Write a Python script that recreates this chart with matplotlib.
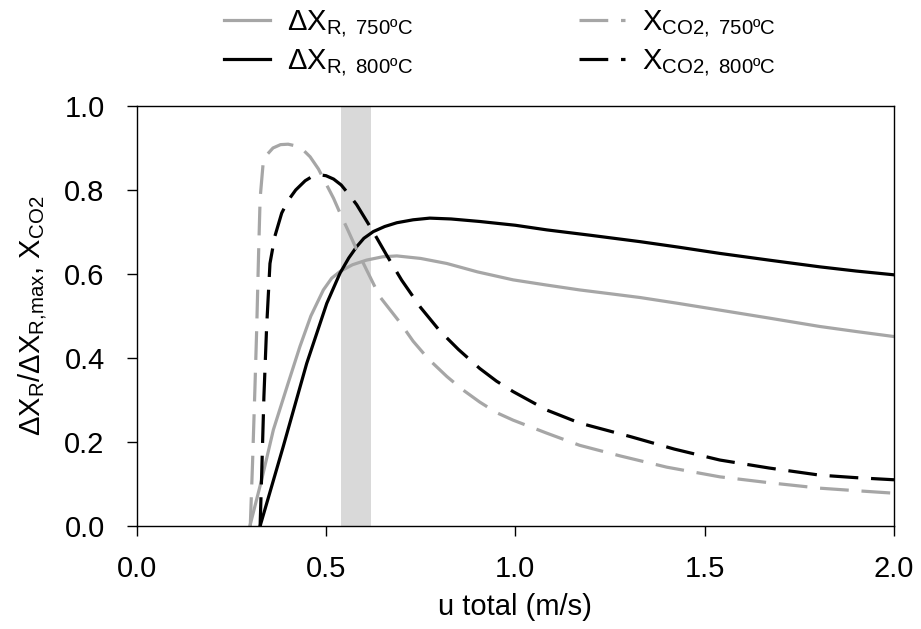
import matplotlib
matplotlib.use("Agg")
import matplotlib.pyplot as plt
from matplotlib.ticker import FormatStrFormatter

plt.rcParams['font.family'] = ['Liberation Sans', 'DejaVu Sans']
plt.rcParams['mathtext.fontset'] = 'custom'
plt.rcParams['mathtext.rm'] = 'Liberation Sans'
plt.rcParams['mathtext.it'] = 'Liberation Sans'
plt.rcParams['mathtext.default'] = 'regular'

# values
u_dxr_750 = [0.299, 0.33, 0.361, 0.40, 0.431, 0.46, 0.493, 0.515, 0.537, 0.57, 0.607, 0.65, 0.687, 0.75,
             0.819, 0.90, 0.994, 1.08, 1.17, 1.25, 1.329, 1.43, 1.54, 1.67, 1.804, 1.90, 2.0]
dxr_750 = [0.0, 0.11, 0.229, 0.34, 0.427, 0.50, 0.562, 0.59, 0.606, 0.622, 0.633, 0.641, 0.643, 0.637,
           0.625, 0.605, 0.586, 0.574, 0.562, 0.553, 0.544, 0.530, 0.514, 0.495, 0.475, 0.463, 0.451]

u_dxr_800 = [0.326, 0.387, 0.449, 0.502, 0.537, 0.56, 0.581, 0.60, 0.625, 0.655, 0.687, 0.73, 0.774, 0.83,
             0.906, 1.0, 1.083, 1.2, 1.329, 1.43, 1.54, 1.67, 1.804, 1.90, 2.0]
dxr_800 = [0.0, 0.189, 0.387, 0.530, 0.602, 0.638, 0.665, 0.685, 0.701, 0.713, 0.722, 0.729, 0.733, 0.731,
           0.725, 0.716, 0.705, 0.692, 0.677, 0.664, 0.649, 0.633, 0.617, 0.607, 0.598]

u_xco2_750 = [0.300, 0.306, 0.312, 0.317, 0.322, 0.326, 0.334, 0.345, 0.36, 0.38, 0.40, 0.42, 0.44, 0.458,
              0.48, 0.50, 0.52, 0.537, 0.56, 0.58, 0.607, 0.642, 0.695, 0.73, 0.77, 0.819, 0.86, 0.906,
              0.95, 0.994, 1.083, 1.17, 1.276, 1.40, 1.54, 1.67, 1.804, 1.90, 2.0]
xco2_750 = [0.0, 0.15, 0.32, 0.47, 0.65, 0.78, 0.864, 0.885, 0.90, 0.908, 0.909, 0.905, 0.895, 0.879,
            0.85, 0.815, 0.78, 0.745, 0.70, 0.66, 0.61, 0.546, 0.485, 0.44, 0.398, 0.356, 0.325, 0.295,
            0.27, 0.252, 0.221, 0.192, 0.167, 0.14, 0.117, 0.103, 0.090, 0.084, 0.078]

u_xco2_800 = [0.326, 0.330, 0.336, 0.343, 0.352, 0.365, 0.383, 0.40, 0.42, 0.445, 0.465, 0.484, 0.50, 0.52,
              0.54, 0.56, 0.581, 0.625, 0.66, 0.70, 0.75, 0.80, 0.85, 0.906, 0.95, 0.994, 1.083, 1.17,
              1.303, 1.42, 1.54, 1.67, 1.804, 1.90, 2.0]
xco2_800 = [0.0, 0.12, 0.308, 0.47, 0.625, 0.69, 0.745, 0.775, 0.80, 0.822, 0.833, 0.836, 0.834, 0.826,
            0.812, 0.79, 0.765, 0.70, 0.645, 0.585, 0.52, 0.465, 0.42, 0.375, 0.345, 0.32, 0.276, 0.245,
            0.213, 0.183, 0.157, 0.138, 0.121, 0.115, 0.110]

band = (0.54, 0.62)

gray = '#A6A6A6'
dash = (0, (9, 4))
fs = 21

fig = plt.figure(figsize=(9.21, 6.29), dpi=100)
ax = fig.add_axes([0.1484, 0.1638, 0.8223, 0.6677])

ax.axvspan(band[0], band[1], color='#D9D9D9', lw=0, zorder=0)

l1, = ax.plot(u_dxr_750, dxr_750, color=gray, lw=2.3, label=r'$\Delta X_{R,\ 750ºC}$')
l2, = ax.plot(u_dxr_800, dxr_800, color='black', lw=2.3, label=r'$\Delta X_{R,\ 800ºC}$')
l3, = ax.plot(u_xco2_750, xco2_750, color=gray, lw=2.3, ls=dash, label=r'$X_{CO2,\ 750ºC}$')
l4, = ax.plot(u_xco2_800, xco2_800, color='black', lw=2.3, ls=dash, label=r'$X_{CO2,\ 800ºC}$')

ax.set_xlim(0, 2.0)
ax.set_ylim(0, 1.0)
ax.set_xticks([0.0, 0.5, 1.0, 1.5, 2.0])
ax.set_yticks([0.0, 0.2, 0.4, 0.6, 0.8, 1.0])
ax.xaxis.set_major_formatter(FormatStrFormatter('%.1f'))
ax.yaxis.set_major_formatter(FormatStrFormatter('%.1f'))
ax.tick_params(direction='out', length=7, width=1, labelsize=fs)
ax.tick_params(axis='y', pad=16)
ax.tick_params(axis='x', pad=14)
for s in ax.spines.values():
    s.set_linewidth(1)

ax.set_xlabel('u total (m/s)', fontsize=fs, labelpad=7)
ax.set_ylabel(r'$\Delta X_{R}/\Delta X_{R{,}max}$, $X_{CO2}$', fontsize=fs, labelpad=11)

fig.legend(handles=[l1, l2, l3, l4], ncol=2, frameon=False, fontsize=fs,
           loc='upper center', bbox_to_anchor=(0.543, 1.028), handlelength=1.55,
           handletextpad=0.6, columnspacing=5.7, labelspacing=0.25)

fig.savefig('out.png', dpi=100)
